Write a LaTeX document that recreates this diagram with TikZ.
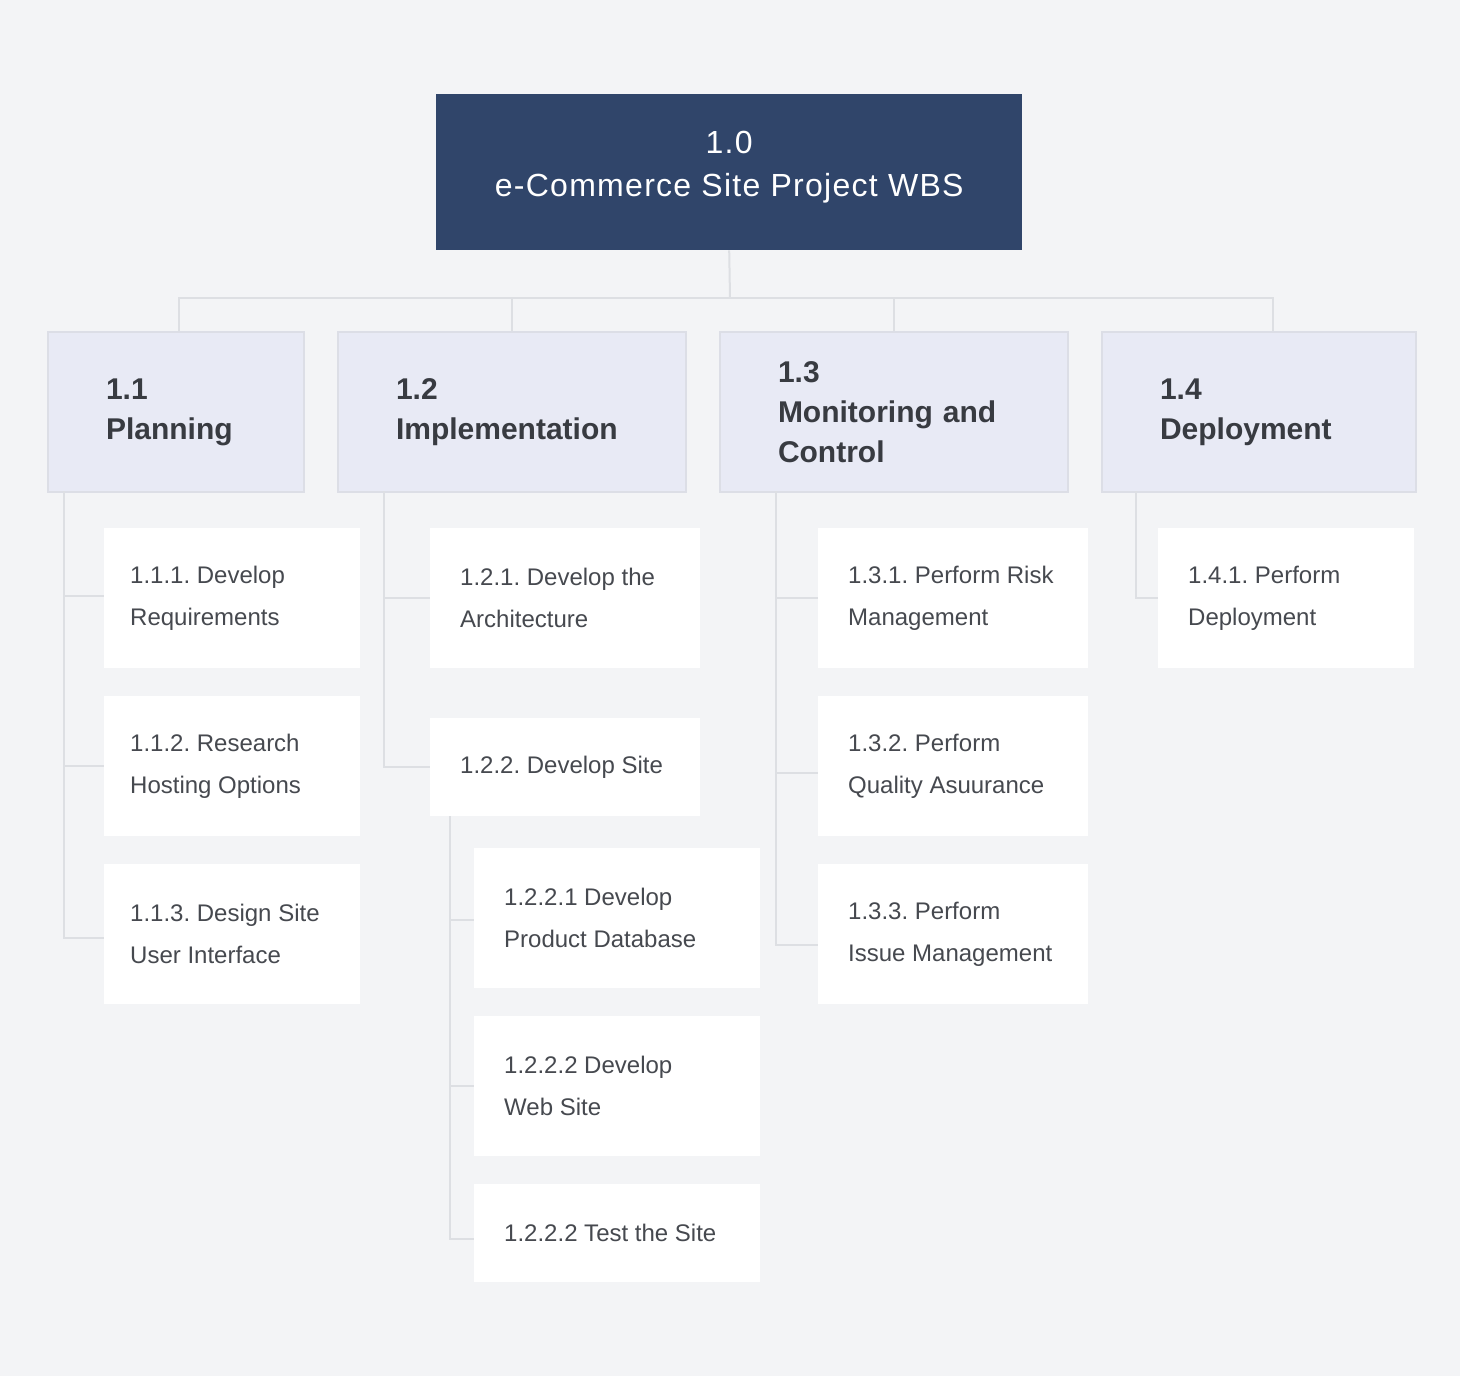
\documentclass[tikz,border=0pt]{standalone}
\usepackage{fontspec}
\setmainfont{Liberation Sans}
\newfontfamily\titlefont[LetterSpace=4]{Liberation Sans}
\frenchspacing
\definecolor{bg}{HTML}{F3F4F6}
\definecolor{navy}{HTML}{30456A}
\definecolor{lav}{HTML}{E8EAF5}
\definecolor{lavline}{HTML}{DCDEE6}
\definecolor{wire}{HTML}{DDDFE3}
\definecolor{ink}{HTML}{383B41}
\definecolor{softink}{HTML}{46494F}

\begin{document}
\begin{tikzpicture}[x=1pt,y=-1pt,
	root/.style={fill=navy,anchor=north west,inner sep=0pt,minimum width=586pt,minimum height=156pt},
	roottext/.style={anchor=center,yshift=5pt,inner sep=0pt,align=center,text=white,font=\titlefont\fontsize{32}{43}\selectfont},
	phase/.style={fill=lav,draw=lavline,line width=2pt,anchor=north west,inner xsep=58pt,inner ysep=0pt,minimum height=160pt,align=left,text=ink,font=\fontsize{30}{40}\selectfont\bfseries},
	task/.style={fill=white,anchor=north west,inner sep=0pt},
	tasktext/.style={anchor=west,inner sep=0pt,align=left,text=softink,font=\fontsize{24}{42}\selectfont},
	link/.style={draw=wire,line width=2pt}]
	\path [use as bounding box,fill=bg] (0,0) rectangle (1460,1376);
	% top of the tree
	\node [root,label={[roottext]center:{1.0\\e-Commerce Site Project WBS}}] (root) at (436,94) {};
	\node [phase,text width=140pt] (plan) at (47,331) {1.1\\Planning};
	\node [phase,text width=232pt] (impl) at (337,331) {1.2\\Implementation};
	\node [phase,text width=232pt] (mon) at (719,331) {1.3\\Monitoring and\\Control};
	\node [phase,text width=198pt] (depl) at (1101,331) {1.4\\Deployment};
	\coordinate (bus) at (730,298);
	\draw [link] (root.south) -- (bus);
	\draw [link] ([xshift=3pt]plan.north) |- (bus) -| ([xshift=14pt]depl.north);
	\draw [link] (impl.north) |- (bus);
	\draw [link] (mon.north) |- (bus);
	% work packages
	\foreach \n/\x/\y/\w/\h/\p/\t in {req/104/528/256/140/26/{1.1.1. Develop\\Requirements},
		host/104/696/256/140/26/{1.1.2. Research\\Hosting Options},
		ui/104/864/256/140/26/{1.1.3. Design Site\\User Interface},
		arch/430/528/270/140/30/{1.2.1. Develop the\\Architecture},
		site/430/718/270/98/30/{1.2.2. Develop Site},
		db/474/848/286/140/30/{1.2.2.1 Develop\\Product Database},
		web/474/1016/286/140/30/{1.2.2.2 Develop\\Web Site},
		test/474/1184/286/98/30/{1.2.2.2 Test the Site},
		risk/818/528/270/140/30/{1.3.1. Perform Risk\\Management},
		qa/818/696/270/140/30/{1.3.2. Perform\\Quality Asuurance},
		issue/818/864/270/140/30/{1.3.3. Perform\\Issue Management},
		deploy/1158/528/256/140/30/{1.4.1. Perform\\Deployment}}{
		\node [task,minimum width=\w pt,minimum height=\h pt,label={[tasktext,xshift=\p pt]west:\t}] (\n) at (\x,\y) {};
	}
	\coordinate (plan-stem) at (64,491);
	\coordinate (impl-stem) at (384,491);
	\coordinate (mon-stem) at (776,491);
	\coordinate (depl-stem) at (1136,491);
	\coordinate (site-stem) at (450,816);
	\foreach \s/\n/\d in {plan/req/-2, plan/host/0, plan/ui/4, impl/arch/0, impl/site/0, site/db/2, site/web/0, site/test/6, mon/risk/0, mon/qa/7, mon/issue/11, depl/deploy/0}
		\draw [link] (\s-stem) |- ([yshift=-\d pt]\n.west);
\end{tikzpicture}
\end{document}
